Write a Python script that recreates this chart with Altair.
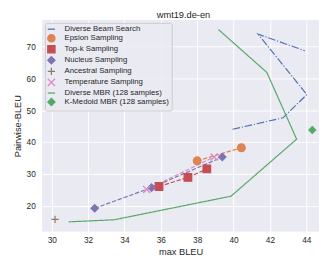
import altair as alt
import pandas as pd

series = ["Diverse Beam Search", "Epsion Sampling", "Top-k Sampling", "Nucleus Sampling",
          "Ancestral Sampling", "Temperature Sampling", "Diverse MBR (128 samples)",
          "K-Medoid MBR (128 samples)"]
colors = ["#4C72B0", "#DD8452", "#C44E52", "#8172B3", "#937860", "#DA8BC3", "#55A868", "#55A868"]

dbs_x = [39.95, 42.72, 44.03, 41.35, 43.92]
dbs_y = [44.0, 47.6, 54.9, 73.85, 68.65]
eps_x = [38.0, 40.43]
eps_y = [34.1, 38.2]
topk_x = [35.9, 37.49, 38.53]
topk_y = [26.05, 28.9, 31.55]
nuc_x = [32.36, 35.49, 39.38]
nuc_y = [19.2, 25.7, 35.3]
anc_x = [30.18]
anc_y = [15.75]
temp_x = [35.22, 38.93]
temp_y = [25.1, 35.3]
dmbr_x = [30.93, 33.43, 39.86, 43.47, 41.83, 39.17]
dmbr_y = [14.95, 15.6, 23.0, 40.9, 61.85, 75.3]
kmed_x = [44.33]
kmed_y = [43.8]

all_x = [dbs_x, eps_x, topk_x, nuc_x, anc_x, temp_x, dmbr_x, kmed_x]
all_y = [dbs_y, eps_y, topk_y, nuc_y, anc_y, temp_y, dmbr_y, kmed_y]
has_line = [True, True, True, True, False, True, True, False]
has_marker = [False, True, True, True, True, True, False, True]

color_of = dict(zip(series, colors))
rows = []
for s, xs, ys, ln, mk in zip(series, all_x, all_y, has_line, has_marker):
    for i, (xv, yv) in enumerate(zip(xs, ys)):
        rows.append({"series": s, "x": xv, "y": yv, "order": i, "line": ln,
                     "marker": mk, "lc": color_of[s]})
df = pd.DataFrame(rows)

line_series = [s for s, l in zip(series, has_line) if l]
marker_series = [s for s, m in zip(series, has_marker) if m]

plus_path = "M-1,0L1,0M0,-1L0,1"
x_path = "M-1,-1L1,1M-1,1L1,-1"
shapes = ["stroke", "circle", "square", "diamond", plus_path, x_path, "stroke", "diamond"]
# sizes / dashes for marker_series / line_series respectively
sizes = [64, 49, 60, 36, 64, 150]
dashdot = [7.7, 1.9, 1.2, 1.9]
dashed = [4.4, 1.9]
solid = [1, 0]
dashes = [dashdot, dashed, dashed, dashed, dashed, solid]

xscale = alt.Scale(domain=[29.47, 44.70], nice=False, zero=False)
yscale = alt.Scale(domain=[11.93, 78.32], nice=False, zero=False)
xenc = alt.X("x:Q", scale=xscale, title="max BLEU",
             axis=alt.Axis(values=[30, 32, 34, 36, 38, 40, 42, 44]))
yenc = alt.Y("y:Q", scale=yscale, title="Pairwise-BLEU",
             axis=alt.Axis(values=[20, 30, 40, 50, 60, 70]))
cscale = alt.Scale(domain=series, range=colors)

legend = alt.Legend(title=None, orient="top-left", offset=3)

lines = alt.Chart(df).transform_filter("datum.line").mark_line(strokeWidth=1.2).encode(
    x=xenc, y=yenc,
    detail="series:N",
    stroke=alt.Stroke("lc:N", scale=None),
    strokeDash=alt.StrokeDash("series:N", scale=alt.Scale(domain=line_series, range=dashes),
                              legend=None),
    order="order:Q",
)

points = alt.Chart(df).transform_filter("datum.marker").mark_point(
    opacity=1, fillOpacity=1, strokeWidth=1.2).encode(
    x=xenc, y=yenc,
    fill=alt.Fill("series:N", scale=cscale, legend=legend),
    stroke=alt.Stroke("series:N", scale=cscale, legend=legend),
    shape=alt.Shape("series:N", scale=alt.Scale(domain=series, range=shapes), legend=legend),
    size=alt.Size("series:N", scale=alt.Scale(domain=marker_series, range=sizes), legend=None),
)

font = "Liberation Sans"
chart = alt.layer(lines, points).properties(
    width=284, height=217,
    autosize=alt.AutoSizeParams(type="none"),
    padding={"left": 35, "top": 9, "right": 0, "bottom": 25},
    title=alt.TitleParams("wmt19.de-en", fontSize=9.5, fontWeight="normal", font=font,
                          color="#262626", offset=0, dx=3),
).configure_view(fill="#EAEAF2", stroke=None).configure_axis(
    grid=True, gridColor="white", gridWidth=1, domain=False, ticks=False,
    labelFont=font, labelFontSize=8.5, labelColor="#262626", labelPadding=4,
    titleFont=font, titleFontSize=9.5, titleFontWeight="normal", titleColor="#262626",
    titlePadding=3,
).configure_axisY(labelPadding=7, titlePadding=4).configure_legend(
    labelFont=font, labelFontSize=8, labelColor="#262626", symbolSize=55,
    symbolStrokeWidth=1.3, rowPadding=-1.7, labelOffset=9, padding=2,
    fillColor="rgba(234,234,242,0.85)", strokeColor="#cccccc", cornerRadius=2,
)

chart.save("out.html", embed_options={"renderer": "svg", "actions": False})
